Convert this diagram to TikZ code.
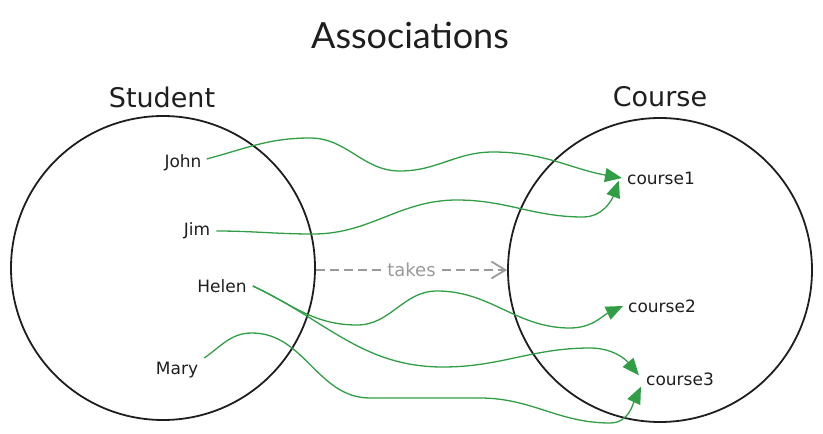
\documentclass[tikz,border=0pt]{standalone}
\usepackage{fontspec}
\setmainfont{Lato}
\newfontfamily\handfont{DejaVu Sans}
\usetikzlibrary{arrows.meta}
\definecolor{ink}{HTML}{1E1E1E}
\definecolor{grn}{HTML}{2F9E44}
\definecolor{gry}{HTML}{9A9A9A}
\tikzset{
  setcircle/.style={circle, draw=ink, line width=1.8pt, minimum size=304pt, inner sep=0pt},
  setlabel/.style={font=\handfont\fontsize{27}{30}\selectfont, text=ink},
  elem/.style={font=\handfont\fontsize{17}{20}\selectfont, text=ink, inner sep=1pt},
  link/.style={draw=grn, line width=1.3pt, -{Triangle[length=17pt,width=14pt]}},
  takes/.style={draw=gry, line width=1.8pt, dash pattern=on 9pt off 5pt, -{Straight Barb[length=14pt,width=17pt,line width=1.8pt]}}
}
\begin{document}
\begin{tikzpicture}[x=1pt,y=-1pt]
\useasboundingbox (0,0) rectangle (823,434);
\node[font=\fontsize{36}{40}\selectfont, text=ink] (title) at (410,35) {Associations};
\node[setcircle] (S) at (163,268) {};
\node[setcircle] (C) at (660,270) {};
\node[setlabel] (slab) at (162,97) {Student};
\node[setlabel] (clab) at (660,97) {Course};
\node[elem] (john) at (183,163) {John};
\node[elem] (jim) at (197,231) {Jim};
\node[elem] (helen) at (222,286) {Helen};
\node[elem] (mary) at (177,370) {Mary};
\node[elem] (c1) at (661,178) {course1};
\node[elem] (c2) at (662,306) {course2};
\node[elem] (c3) at (680,379) {course3};
\draw[takes] (S.east |- 0,270) -- node[fill=white, text=gry, inner sep=2pt, font=\handfont\fontsize{18}{20}\selectfont] (tk) {takes} (C.west |- 0,270);
% John -> course1
\draw[link] ([xshift=4pt,yshift=4pt]john.east) to[out=15,in=180] (310,138) to[out=0,in=180] (400,171) to[out=0,in=180] (493,152) to[out=0,in=170] ([xshift=-4pt]c1.west);
% Jim -> course1
\draw[link] ([xshift=5pt]jim.east) to[out=0,in=180] (313,234) to[out=0,in=180] (457,200) to[out=0,in=180] (583,217) to[out=0,in=250] ([xshift=-7pt,yshift=5pt]c1.south west);
% Helen -> course2
\draw[link] ([xshift=5pt]helen.east) to[out=-25,in=180] (357,325) to[out=0,in=180] (437,291) to[out=0,in=180] (570,328) to[out=0,in=205] ([xshift=-4pt]c2.west);
% Helen -> course3
\draw[link] ([xshift=5pt]helen.east) to[out=-25,in=180] (443,367) to[out=0,in=180] (590,348) to[out=0,in=130] ([xshift=-6pt,yshift=-4pt]c3.north west);
% Mary -> course3
\draw[link] ([xshift=5pt,yshift=12pt]mary.east) to[out=35,in=180] (252,333) to[out=0,in=180] (370,398) to[out=0,in=180] (480,398) to[out=0,in=180] (610,423) to[out=0,in=245] ([xshift=-4pt]c3.south west);
\end{tikzpicture}
\end{document}
